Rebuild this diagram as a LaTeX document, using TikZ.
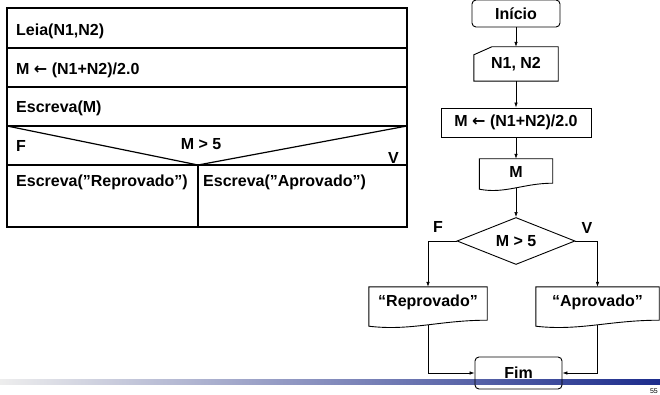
\documentclass[tikz,border=0pt]{standalone}
\usepackage{fontspec}
\setmainfont{Liberation Sans}[BoldFont={Liberation Sans Bold}]
\newfontfamily\arrowfont{DejaVu Sans}[BoldFont={DejaVu Sans Bold}]
\usetikzlibrary{calc,positioning,shapes.geometric,arrows.meta}
\definecolor{barblue}{RGB}{28,44,140}
\definecolor{barmid}{RGB}{180,184,205}
\newcommand{\larr}{{\arrowfont\bfseries ←}}
\tikzset{
  box/.style={draw, line width=0.9pt, minimum height=29pt, inner sep=0pt},
  doc/.style={inner sep=0pt, text height=19pt, anchor=base},
  flow/.style={line width=0.6pt, -{Latex[length=5pt,width=3.5pt]}},
  txt/.style={anchor=base west, inner sep=0pt},
  grid/.style={line width=1.2pt},
}
% outline of a document symbol round a node
\newcommand{\docout}[1]{%
  \draw[line width=0.9pt] ($(#1.south west)+(0,1)$) -- (#1.north west) -- (#1.north east) -- ($(#1.south east)+(0,-5)$)
    .. controls ($(#1.south west)!0.6!(#1.south east)+(0,-5)$) and ($(#1.south west)!0.35!(#1.south east)+(0,6)$) .. ($(#1.south west)+(0,1)$) -- cycle;}

\begin{document}
\begin{tikzpicture}[x=1pt, y=-1pt, font=\fontsize{16}{19}\selectfont\bfseries]
  \useasboundingbox (0,0) rectangle (660,395);
  \shade[left color=black!7, middle color=barmid, right color=barblue] (0,379) rectangle (660,384);
  \node[anchor=base east, font=\fontsize{7}{8}\selectfont, inner sep=0pt] (pg) at (658,393) {55};

  % structogram
  \draw[grid] (7,8) rectangle (407,227);
  \foreach \y in {48,87,126,165}{
    \draw[grid] (7,\y) -- (407,\y);
  }
  \draw[grid] (7,126) -- (198,165) -- (407,126);
  \draw[grid] (198,165) -- (198,227);
  \node[txt] (leia) at (16,36) {Leia(N1,N2)};
  \node[txt] (calc) at (16,75) {M \larr{} (N1+N2)/2.0};
  \node[txt] (escm) at (16,113) {Escreva(M)};
  \node[txt] (sf) at (16,152) {F};
  \node[anchor=base, inner sep=0pt] (cond) at (201,150) {M > 5};
  \node[txt] (sv) at (388,164) {V};
  \node[txt] (erep) at (16,187) {Escreva(”Reprovado”)};
  \node[txt] (eapr) at (203,187) {Escreva(”Aprovado”)};

  % flowchart
  \node[box, rounded corners=4pt, minimum width=88pt, minimum height=27pt] (ini) at (516,13.5) {Início};
  \node[inner sep=0pt, minimum width=84pt, minimum height=34pt] (inp) at (516,64) {N1, N2};
  \draw[line width=0.9pt] (inp.south west) -- ($(inp.north west)+(0,8)$) -- ($(inp.north west)+(18,0)$) -- (inp.north east) -- (inp.south east) -- cycle;
  \node[box, minimum width=150pt] (atr) at (516,122.5) {M \larr{} (N1+N2)/2.0};
  \node[doc, text depth=10pt, minimum width=73pt] (out) at (516,178) {M};
  \docout{out}
  \node[draw, diamond, aspect=2.5, line width=0.9pt, minimum width=118pt, minimum height=47pt, inner sep=0pt] (dec) at (516,241) {M > 5};
  \node (nf) at (438,227) {F};
  \node (nv) at (587,228) {V};
  \node[doc, text depth=19pt, minimum width=118pt] (rep) at (428,306) {“Reprovado”};
  \docout{rep}
  \node[doc, text depth=19pt, minimum width=123pt] (apr) at (597.5,306) {“Aprovado”};
  \docout{apr}
  \node[box, rounded corners=4pt, minimum width=87pt, minimum height=32pt] (fim) at (518.5,373) {Fim};

  \draw[flow] (ini) -- (inp);
  \draw[flow] (inp) -- (atr);
  \draw[flow] (atr) -- (out);
  \draw[flow] (out.south) -- (dec.north);
  \draw[flow] (dec.west) -| (rep.north);
  \draw[flow] (dec.east) -| (apr.north);
  \draw[flow] (rep.south) |- (fim.west);
  \draw[flow] (apr.south) |- (fim.east);
\end{tikzpicture}
\end{document}
